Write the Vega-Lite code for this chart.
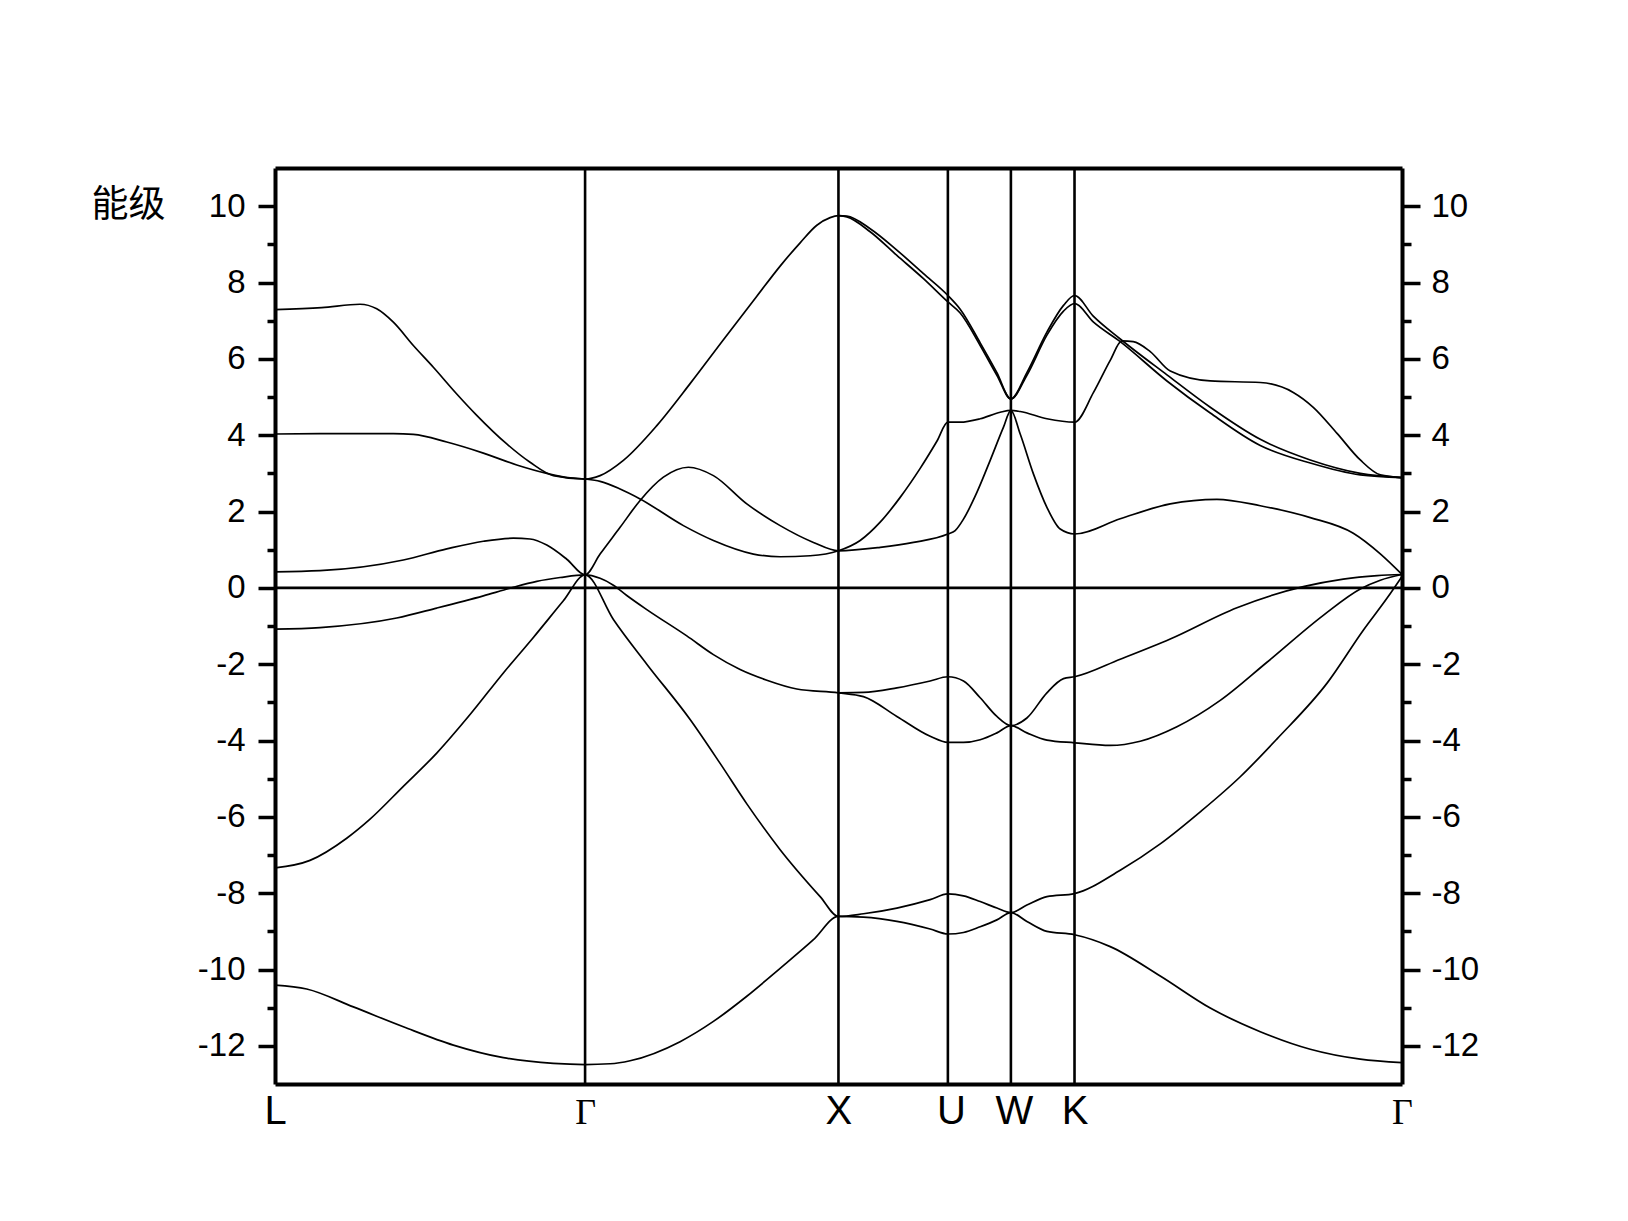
{
"$schema": "https://vega.github.io/schema/vega-lite/v6.json",
"width": 1127, "height": 916,
"autosize": {"type": "none"},
"padding": {"left": 275, "top": 168, "right": 226, "bottom": 137},
"background": "white",
"config": {"view": {"stroke": null}, "axis": {"domainColor": "black", "tickColor": "black", "labelColor": "black", "titleColor": "black", "grid": false}},
"resolve": {"axis": {"x": "independent", "y": "independent"}},
"layer": [
{
"data": {"values": [
{"b":1,"k":0,"e":-10.41},{"b":1,"k":0.317,"e":-10.51},{"b":1,"k":0.783,"e":-10.98},{"b":1,"k":1.283,"e":-11.5},{"b":1,"k":1.783,"e":-11.98},{"b":1,"k":2.283,"e":-12.31},{"b":1,"k":2.783,"e":-12.46},{"b":1,"k":3.1,"e":-12.49},{"b":1,"k":3.35,"e":-12.47},{"b":1,"k":3.55,"e":-12.39},{"b":1,"k":4.05,"e":-11.89},{"b":1,"k":4.383,"e":-11.36},{"b":1,"k":4.717,"e":-10.7},{"b":1,"k":5.05,"e":-9.97},{"b":1,"k":5.383,"e":-9.22},{"b":1,"k":5.633,"e":-8.61},{"b":1,"k":5.883,"e":-8.63},{"b":1,"k":6.217,"e":-8.74},{"b":1,"k":6.55,"e":-8.94},{"b":1,"k":6.727,"e":-9.07},{"b":1,"k":6.883,"e":-9.03},{"b":1,"k":7.05,"e":-8.88},{"b":1,"k":7.217,"e":-8.7},{"b":1,"k":7.357,"e":-8.51},{"b":1,"k":7.517,"e":-8.74},{"b":1,"k":7.717,"e":-9.0},{"b":1,"k":7.993,"e":-9.09},{"b":1,"k":8.35,"e":-9.4},{"b":1,"k":8.85,"e":-10.17},{"b":1,"k":9.35,"e":-11.01},{"b":1,"k":9.85,"e":-11.63},{"b":1,"k":10.35,"e":-12.09},{"b":1,"k":10.85,"e":-12.35},{"b":1,"k":11.267,"e":-12.44},
{"b":2,"k":0,"e":-7.34},{"b":2,"k":0.35,"e":-7.14},{"b":2,"k":0.717,"e":-6.56},{"b":2,"k":0.95,"e":-6.06},{"b":2,"k":1.283,"e":-5.2},{"b":2,"k":1.617,"e":-4.33},{"b":2,"k":1.95,"e":-3.32},{"b":2,"k":2.283,"e":-2.23},{"b":2,"k":2.583,"e":-1.3},{"b":2,"k":2.883,"e":-0.34},{"b":2,"k":3.1,"e":0.34},{"b":2,"k":3.383,"e":-0.83},{"b":2,"k":3.717,"e":-2.0},{"b":2,"k":4.15,"e":-3.45},{"b":2,"k":4.45,"e":-4.6},{"b":2,"k":4.717,"e":-5.66},{"b":2,"k":5.05,"e":-6.86},{"b":2,"k":5.45,"e":-8.09},{"b":2,"k":5.633,"e":-8.61},{"b":2,"k":5.883,"e":-8.54},{"b":2,"k":6.217,"e":-8.39},{"b":2,"k":6.55,"e":-8.17},{"b":2,"k":6.727,"e":-8.02},{"b":2,"k":6.883,"e":-8.07},{"b":2,"k":7.05,"e":-8.22},{"b":2,"k":7.217,"e":-8.39},{"b":2,"k":7.357,"e":-8.51},{"b":2,"k":7.517,"e":-8.31},{"b":2,"k":7.717,"e":-8.09},{"b":2,"k":7.993,"e":-8.01},{"b":2,"k":8.45,"e":-7.4},{"b":2,"k":8.85,"e":-6.71},{"b":2,"k":9.25,"e":-5.87},{"b":2,"k":9.65,"e":-4.95},{"b":2,"k":10.02,"e":-3.95},{"b":2,"k":10.52,"e":-2.49},{"b":2,"k":10.88,"e":-1.11},{"b":2,"k":11.12,"e":-0.26},{"b":2,"k":11.267,"e":0.3},
{"b":3,"k":0,"e":-1.08},{"b":3,"k":0.45,"e":-1.04},{"b":3,"k":1.217,"e":-0.79},{"b":3,"k":1.617,"e":-0.53},{"b":3,"k":2.083,"e":-0.21},{"b":3,"k":2.35,"e":-0.01},{"b":3,"k":2.617,"e":0.17},{"b":3,"k":2.85,"e":0.27},{"b":3,"k":3.1,"e":0.34},{"b":3,"k":3.25,"e":0.25},{"b":3,"k":3.383,"e":0.07},{"b":3,"k":3.517,"e":-0.2},{"b":3,"k":3.717,"e":-0.57},{"b":3,"k":4.117,"e":-1.26},{"b":3,"k":4.383,"e":-1.75},{"b":3,"k":4.65,"e":-2.14},{"b":3,"k":4.917,"e":-2.42},{"b":3,"k":5.217,"e":-2.65},{"b":3,"k":5.633,"e":-2.75},{"b":3,"k":5.883,"e":-2.85},{"b":3,"k":6.217,"e":-3.37},{"b":3,"k":6.55,"e":-3.89},{"b":3,"k":6.727,"e":-4.05},{"b":3,"k":6.883,"e":-4.05},{"b":3,"k":7.05,"e":-3.98},{"b":3,"k":7.217,"e":-3.8},{"b":3,"k":7.357,"e":-3.61},{"b":3,"k":7.517,"e":-3.8},{"b":3,"k":7.717,"e":-3.99},{"b":3,"k":7.993,"e":-4.06},{"b":3,"k":8.35,"e":-4.13},{"b":3,"k":8.65,"e":-4.02},{"b":3,"k":9.017,"e":-3.64},{"b":3,"k":9.45,"e":-2.95},{"b":3,"k":9.917,"e":-1.95},{"b":3,"k":10.48,"e":-0.72},{"b":3,"k":10.85,"e":-0.03},{"b":3,"k":11.05,"e":0.2},{"b":3,"k":11.267,"e":0.35},
{"b":4,"k":5.633,"e":-2.75},{"b":4,"k":5.883,"e":-2.74},{"b":4,"k":6.217,"e":-2.62},{"b":4,"k":6.55,"e":-2.44},{"b":4,"k":6.727,"e":-2.33},{"b":4,"k":6.883,"e":-2.44},{"b":4,"k":7.05,"e":-2.88},{"b":4,"k":7.217,"e":-3.37},{"b":4,"k":7.357,"e":-3.61},{"b":4,"k":7.517,"e":-3.41},{"b":4,"k":7.717,"e":-2.75},{"b":4,"k":7.883,"e":-2.38},{"b":4,"k":7.993,"e":-2.33},{"b":4,"k":8.45,"e":-1.87},{"b":4,"k":8.95,"e":-1.34},{"b":4,"k":9.617,"e":-0.52},{"b":4,"k":10.28,"e":0.03},{"b":4,"k":10.68,"e":0.23},{"b":4,"k":11.02,"e":0.32},{"b":4,"k":11.267,"e":0.35},
{"b":5,"k":0,"e":0.42},{"b":5,"k":0.45,"e":0.45},{"b":5,"k":1.283,"e":0.73},{"b":5,"k":1.717,"e":1.02},{"b":5,"k":2.083,"e":1.22},{"b":5,"k":2.383,"e":1.3},{"b":5,"k":2.55,"e":1.28},{"b":5,"k":2.717,"e":1.12},{"b":5,"k":2.917,"e":0.75},{"b":5,"k":3.1,"e":0.34},{"b":5,"k":3.25,"e":0.885},{"b":5,"k":3.45,"e":1.585},{"b":5,"k":3.65,"e":2.29},{"b":5,"k":3.883,"e":2.9},{"b":5,"k":4.133,"e":3.16},{"b":5,"k":4.383,"e":2.94},{"b":5,"k":4.717,"e":2.2},{"b":5,"k":5.05,"e":1.63},{"b":5,"k":5.383,"e":1.19},{"b":5,"k":5.633,"e":0.97},{"b":5,"k":6.05,"e":1.06},{"b":5,"k":6.383,"e":1.19},{"b":5,"k":6.727,"e":1.41},{"b":5,"k":6.8,"e":1.5},{"b":5,"k":6.883,"e":1.8},{"b":5,"k":7.017,"e":2.5},{"b":5,"k":7.15,"e":3.34},{"b":5,"k":7.283,"e":4.21},{"b":5,"k":7.357,"e":4.65},{"b":5,"k":7.45,"e":4.03},{"b":5,"k":7.583,"e":2.98},{"b":5,"k":7.717,"e":2.11},{"b":5,"k":7.85,"e":1.54},{"b":5,"k":7.993,"e":1.41},{"b":5,"k":8.45,"e":1.81},{"b":5,"k":8.95,"e":2.2},{"b":5,"k":9.417,"e":2.32},{"b":5,"k":9.85,"e":2.15},{"b":5,"k":10.35,"e":1.84},{"b":5,"k":10.78,"e":1.43},{"b":5,"k":11.05,"e":0.89},{"b":5,"k":11.267,"e":0.35},
{"b":6,"k":0,"e":4.03},{"b":6,"k":0.45,"e":4.04},{"b":6,"k":1.183,"e":4.04},{"b":6,"k":1.383,"e":4.02},{"b":6,"k":1.717,"e":3.82},{"b":6,"k":2.083,"e":3.53},{"b":6,"k":2.417,"e":3.22},{"b":6,"k":2.717,"e":3.0},{"b":6,"k":2.95,"e":2.88},{"b":6,"k":3.1,"e":2.85},{"b":6,"k":3.25,"e":2.79},{"b":6,"k":3.45,"e":2.59},{"b":6,"k":3.65,"e":2.33},{"b":6,"k":4.083,"e":1.63},{"b":6,"k":4.383,"e":1.24},{"b":6,"k":4.783,"e":0.885},{"b":6,"k":5.05,"e":0.815},{"b":6,"k":5.35,"e":0.84},{"b":6,"k":5.633,"e":0.97},{"b":6,"k":5.85,"e":1.24},{"b":6,"k":6.05,"e":1.72},{"b":6,"k":6.25,"e":2.37},{"b":6,"k":6.45,"e":3.13},{"b":6,"k":6.617,"e":3.84},{"b":6,"k":6.727,"e":4.34},{"b":6,"k":6.85,"e":4.34},{"b":6,"k":7.05,"e":4.43},{"b":6,"k":7.25,"e":4.6},{"b":6,"k":7.357,"e":4.65},{"b":6,"k":7.45,"e":4.62},{"b":6,"k":7.717,"e":4.43},{"b":6,"k":7.993,"e":4.34},{"b":6,"k":8.183,"e":5.12},{"b":6,"k":8.35,"e":5.96},{"b":6,"k":8.467,"e":6.47},{"b":6,"k":8.58,"e":6.45},{"b":6,"k":8.75,"e":6.19},{"b":6,"k":8.95,"e":5.68},{"b":6,"k":9.35,"e":5.42},{"b":6,"k":9.85,"e":5.38},{"b":6,"k":10.18,"e":5.12},{"b":6,"k":10.38,"e":4.73},{"b":6,"k":10.62,"e":4.04},{"b":6,"k":10.85,"e":3.35},{"b":6,"k":11.05,"e":2.96},{"b":6,"k":11.267,"e":2.89},
{"b":7,"k":5.633,"e":9.75},{"b":7,"k":5.717,"e":9.72},{"b":7,"k":5.95,"e":9.33},{"b":7,"k":6.217,"e":8.71},{"b":7,"k":6.483,"e":8.1},{"b":7,"k":6.727,"e":7.49},{"b":7,"k":6.85,"e":7.2},{"b":7,"k":7.05,"e":6.35},{"b":7,"k":7.217,"e":5.57},{"b":7,"k":7.357,"e":4.95},{"b":7,"k":7.517,"e":5.57},{"b":7,"k":7.717,"e":6.62},{"b":7,"k":7.883,"e":7.25},{"b":7,"k":7.993,"e":7.45},{"b":7,"k":8.183,"e":6.96},{"b":7,"k":8.45,"e":6.45},{"b":7,"k":8.917,"e":5.42},{"b":7,"k":9.35,"e":4.58},{"b":7,"k":9.85,"e":3.73},{"b":7,"k":10.35,"e":3.27},{"b":7,"k":10.85,"e":2.96},{"b":7,"k":11.267,"e":2.89},
{"b":8,"k":0,"e":7.29},{"b":8,"k":0.467,"e":7.34},{"b":8,"k":0.85,"e":7.43},{"b":8,"k":1.017,"e":7.31},{"b":8,"k":1.183,"e":6.96},{"b":8,"k":1.383,"e":6.35},{"b":8,"k":1.583,"e":5.78},{"b":8,"k":1.817,"e":5.08},{"b":8,"k":2.017,"e":4.52},{"b":8,"k":2.317,"e":3.77},{"b":8,"k":2.55,"e":3.29},{"b":8,"k":2.783,"e":2.94},{"b":8,"k":3.1,"e":2.85},{"b":8,"k":3.25,"e":2.94},{"b":8,"k":3.483,"e":3.34},{"b":8,"k":3.817,"e":4.25},{"b":8,"k":4.15,"e":5.35},{"b":8,"k":4.483,"e":6.5},{"b":8,"k":4.817,"e":7.64},{"b":8,"k":5.05,"e":8.43},{"b":8,"k":5.25,"e":9.04},{"b":8,"k":5.417,"e":9.5},{"b":8,"k":5.55,"e":9.7},{"b":8,"k":5.633,"e":9.75},{"b":8,"k":5.717,"e":9.74},{"b":8,"k":5.95,"e":9.41},{"b":8,"k":6.217,"e":8.85},{"b":8,"k":6.483,"e":8.23},{"b":8,"k":6.727,"e":7.66},{"b":8,"k":6.85,"e":7.3},{"b":8,"k":7.05,"e":6.42},{"b":8,"k":7.217,"e":5.64},{"b":8,"k":7.357,"e":4.95},{"b":8,"k":7.517,"e":5.64},{"b":8,"k":7.717,"e":6.7},{"b":8,"k":7.883,"e":7.4},{"b":8,"k":7.993,"e":7.66},{"b":8,"k":8.183,"e":7.11},{"b":8,"k":8.45,"e":6.52},{"b":8,"k":8.917,"e":5.58},{"b":8,"k":9.35,"e":4.73},{"b":8,"k":9.85,"e":3.89},{"b":8,"k":10.35,"e":3.35},{"b":8,"k":10.85,"e":3.0},{"b":8,"k":11.267,"e":2.89}
]},
"mark": {"type": "line", "color": "black", "strokeWidth": 1.7, "interpolate": "monotone", "clip": true},
"encoding": {
"x": {"field": "k", "type": "quantitative", "scale": {"domain": [0, 11.267], "nice": false, "zero": false},
 "axis": {"orient": "bottom", "title": null, "values": [0, 3.1, 5.633, 6.727, 7.357, 7.993, 11.267], "ticks": false, "tickSize": 0, "domainWidth": 4,
  "labelExpr": "datum.value < 1 ? 'L' : datum.value < 4 ? 'Γ' : datum.value < 6 ? 'X' : datum.value < 7 ? 'U' : datum.value < 7.6 ? 'W' : datum.value < 9 ? 'K' : 'Γ'",
  "labelFont": {"condition": {"test": "(datum.value > 2 && datum.value < 4) || datum.value > 11", "value": "Liberation Serif"}, "value": "Liberation Sans"},
  "labelFontSize": {"condition": {"test": "(datum.value > 2 && datum.value < 4) || datum.value > 11", "value": 36}, "value": 40},
  "labelOffset": {"condition": {"test": "datum.value > 6 && datum.value < 7.6", "value": 3}, "value": 0},
  "labelBaseline": "alphabetic", "labelPadding": 39, "labelAlign": "center", "labelOverlap": false, "labelBound": false, "labelFlush": false}},
"y": {"field": "e", "type": "quantitative", "scale": {"domain": [-13, 11], "nice": false, "zero": false},
 "axis": {"orient": "left", "values": [-12,-11,-10,-9,-8,-7,-6,-5,-4,-3,-2,-1,0,1,2,3,4,5,6,7,8,9,10], "domainWidth": 4, "tickWidth": 3.5,
  "tickSize": {"condition": {"test": "datum.value % 2 == 0", "value": 17}, "value": 8},
  "labelExpr": "datum.value % 2 == 0 ? toString(datum.value) : ''", "labelFont": "Liberation Sans", "labelFontSize": 33, "labelPadding": 13, "labelOverlap": false, "labelFlush": false,
  "title": "能级", "titleFont": "Noto Sans CJK SC", "titleFontSize": 37, "titleFontWeight": "normal", "titleAngle": 0, "titleAlign": "center", "titleBaseline": "middle", "titleX": -147, "titleY": 37}},
"detail": {"field": "b"}
}
},
{
"data": {"values": [{"k": 3.1}, {"k": 5.633}, {"k": 6.727}, {"k": 7.357}, {"k": 7.993}]},
"mark": {"type": "rule", "color": "black", "strokeWidth": 2.6},
"encoding": {
"x": {"field": "k", "type": "quantitative", "scale": {"domain": [0, 11.267], "nice": false, "zero": false},
 "axis": {"orient": "top", "title": null, "labels": false, "ticks": false, "domainWidth": 4}}
}
},
{
"data": {"values": [{"e": 0}]},
"mark": {"type": "rule", "color": "black", "strokeWidth": 2.6},
"encoding": {
"y": {"field": "e", "type": "quantitative", "scale": {"domain": [-13, 11], "nice": false, "zero": false},
 "axis": {"orient": "right", "title": null, "values": [-12,-11,-10,-9,-8,-7,-6,-5,-4,-3,-2,-1,0,1,2,3,4,5,6,7,8,9,10], "domainWidth": 4, "tickWidth": 3.5,
  "tickSize": {"condition": {"test": "datum.value % 2 == 0", "value": 18}, "value": 9},
  "labelExpr": "datum.value % 2 == 0 ? toString(datum.value) : ''", "labelFont": "Liberation Sans", "labelFontSize": 33, "labelPadding": 11, "labelOverlap": false, "labelFlush": false}}
}
}
]
}
